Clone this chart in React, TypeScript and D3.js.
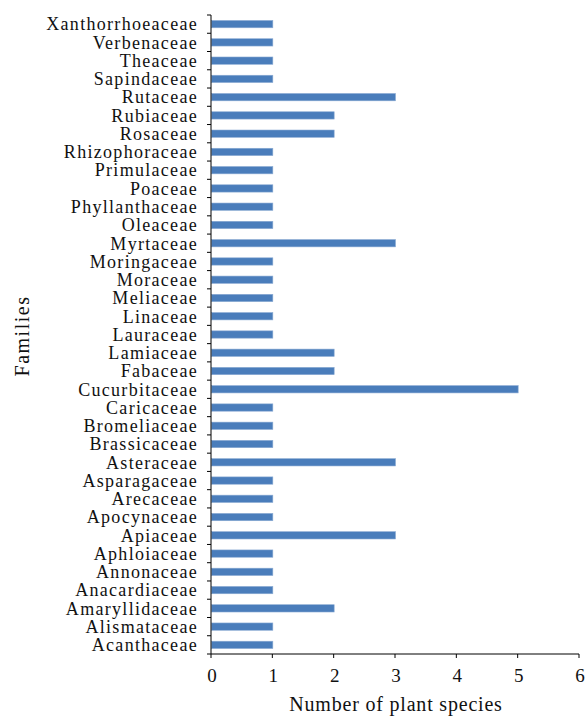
import * as d3 from "d3";

// families listed bottom to top as in the chart
const families = [
  "Acanthaceae", "Alismataceae", "Amaryllidaceae", "Anacardiaceae", "Annonaceae",
  "Aphloiaceae", "Apiaceae", "Apocynaceae", "Arecaceae", "Asparagaceae",
  "Asteraceae", "Brassicaceae", "Bromeliaceae", "Caricaceae", "Cucurbitaceae",
  "Fabaceae", "Lamiaceae", "Lauraceae", "Linaceae", "Meliaceae",
  "Moraceae", "Moringaceae", "Myrtaceae", "Oleaceae", "Phyllanthaceae",
  "Poaceae", "Primulaceae", "Rhizophoraceae", "Rosaceae", "Rubiaceae",
  "Rutaceae", "Sapindaceae", "Theaceae", "Verbenaceae", "Xanthorrhoeaceae",
];
const species = [
  1, 1, 2, 1, 1,
  1, 3, 1, 1, 1,
  3, 1, 1, 1, 5,
  2, 2, 1, 1, 1,
  1, 1, 3, 1, 1,
  1, 1, 1, 2, 2,
  3, 1, 1, 1, 1,
];
const xTicks = [0, 1, 2, 3, 4, 5, 6];

const W = 587;
const H = 716;
const font = "'Liberation Serif', 'Times New Roman', serif";

export default function App() {
  const x = d3.scaleLinear().domain([0, 6]).range([211, 579]);
  const y = d3
    .scaleBand<string>()
    .domain([...families].reverse())
    .range([15, 654])
    .paddingInner(0.6)
    .paddingOuter(0.3);

  const step = y.step();
  const bw = y.bandwidth();
  const bounds = d3.range(families.length + 1).map((i) => 15 + i * step);

  return (
    <svg
      width={W}
      height={H}
      style={{ position: "absolute", left: 0, top: 0, background: "#fff" }}
    >
      {/* bars */}
      {families.map((f, i) => (
        <rect
          key={f}
          x={x(0) + 0.5}
          y={y(f)}
          width={x(species[i]) - x(0)}
          height={bw}
          fill="#4a7dbb"
          stroke="#8aaad3"
          strokeWidth={0.6}
        />
      ))}

      {/* y axis */}
      <line x1={x(0)} x2={x(0)} y1={15} y2={654} stroke="#000" strokeWidth={1} />
      {bounds.map((b, i) => (
        <line key={i} x1={x(0) - 4} x2={x(0)} y1={b} y2={b} stroke="#000" strokeWidth={1} />
      ))}
      {families.map((f) => (
        <text
          key={f}
          x={198}
          y={(y(f) ?? 0) + bw / 2}
          dy="0.35em"
          textAnchor="end"
          fontFamily={font}
          fontSize={18}
          letterSpacing={1.3}
          fill="#111"
        >
          {f}
        </text>
      ))}

      {/* x axis */}
      <line x1={x(0)} x2={x(6)} y1={654} y2={654} stroke="#000" strokeWidth={1} />
      {xTicks.map((t) => (
        <g key={t}>
          <line x1={x(t)} x2={x(t)} y1={654} y2={658} stroke="#000" strokeWidth={1} />
          <text
            x={x(t) + 1}
            y={682}
            textAnchor="middle"
            fontFamily={font}
            fontSize={19}
            fill="#111"
          >
            {t}
          </text>
        </g>
      ))}

      <text
        x={396}
        y={711}
        textAnchor="middle"
        fontFamily={font}
        fontSize={20}
        letterSpacing={0.8}
        fill="#111"
      >
        Number of plant species
      </text>
      <text
        transform={`translate(29, 336) rotate(-90)`}
        textAnchor="middle"
        fontFamily={font}
        fontSize={20}
        letterSpacing={1.5}
        fill="#111"
      >
        Families
      </text>
    </svg>
  );
}
